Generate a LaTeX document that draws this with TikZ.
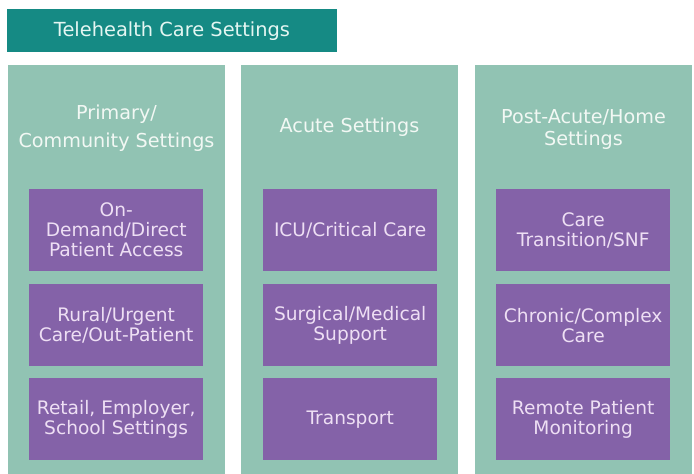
\documentclass[tikz,border=0pt]{standalone}
\usepackage{fontspec}
\setmainfont{DejaVu Sans}
\definecolor{titleteal}{HTML}{158A84}
\definecolor{colbg}{HTML}{91C3B3}
\definecolor{boxpurple}{HTML}{8462A8}
\definecolor{boxtext}{HTML}{EEDFF4}
\definecolor{coltext}{HTML}{F2F8F4}
\definecolor{titletext}{HTML}{E4F6F2}
\begin{document}
\begin{tikzpicture}[x=1pt,y=-1pt,
  titlebox/.style={fill=titleteal,anchor=north west,inner sep=0pt,minimum width=330pt,minimum height=43pt},
  colbox/.style={fill=colbg,anchor=north west,inner sep=0pt,minimum width=217pt,minimum height=409pt},
  colhead/.style={text=coltext,align=center,font=\fontsize{19.2}{22}\selectfont},
  itembox/.style={fill=boxpurple,anchor=north west,inner sep=0pt,minimum width=174pt,minimum height=82pt,text=boxtext,align=center,font=\fontsize{18.6}{20}\selectfont}]
\useasboundingbox (0,0) rectangle (694,474);
\node[titlebox] (title) at (7,9) {};
\node[text=titletext,font=\fontsize{19.4}{22}\selectfont] (titletxt) at (172,31) {Telehealth Care Settings};
% columns
\node[colbox] (c1) at (8,65) {};
\node[colbox] (c2) at (241,65) {};
\node[colbox] (c3) at (475,65) {};
\node[colhead,font=\fontsize{19.2}{28}\selectfont] (h1) at (116.5,128.5) {Primary/\\Community Settings};
\node[colhead] (h2) at (349.5,127.5) {Acute Settings};
\node[colhead] (h3) at (583.5,129.5) {Post-Acute/Home\\Settings};
% items
\node[itembox] (a1) at (29,189) {On-\\Demand/Direct\\Patient Access};
\node[itembox] (a2) at (29,284) {Rural/Urgent\\Care/Out-Patient};
\node[itembox] (a3) at (29,378) {Retail, Employer,\\School Settings};
\node[itembox] (b1) at (263,189) {ICU/Critical Care};
\node[itembox] (b2) at (263,284) {Surgical/Medical\\Support};
\node[itembox] (b3) at (263,378) {Transport};
\node[itembox] (d1) at (496,189) {Care\\Transition/SNF};
\node[itembox] (d2) at (496,284) {Chronic/Complex\\Care};
\node[itembox] (d3) at (496,378) {Remote Patient\\Monitoring};
\end{tikzpicture}
\end{document}
